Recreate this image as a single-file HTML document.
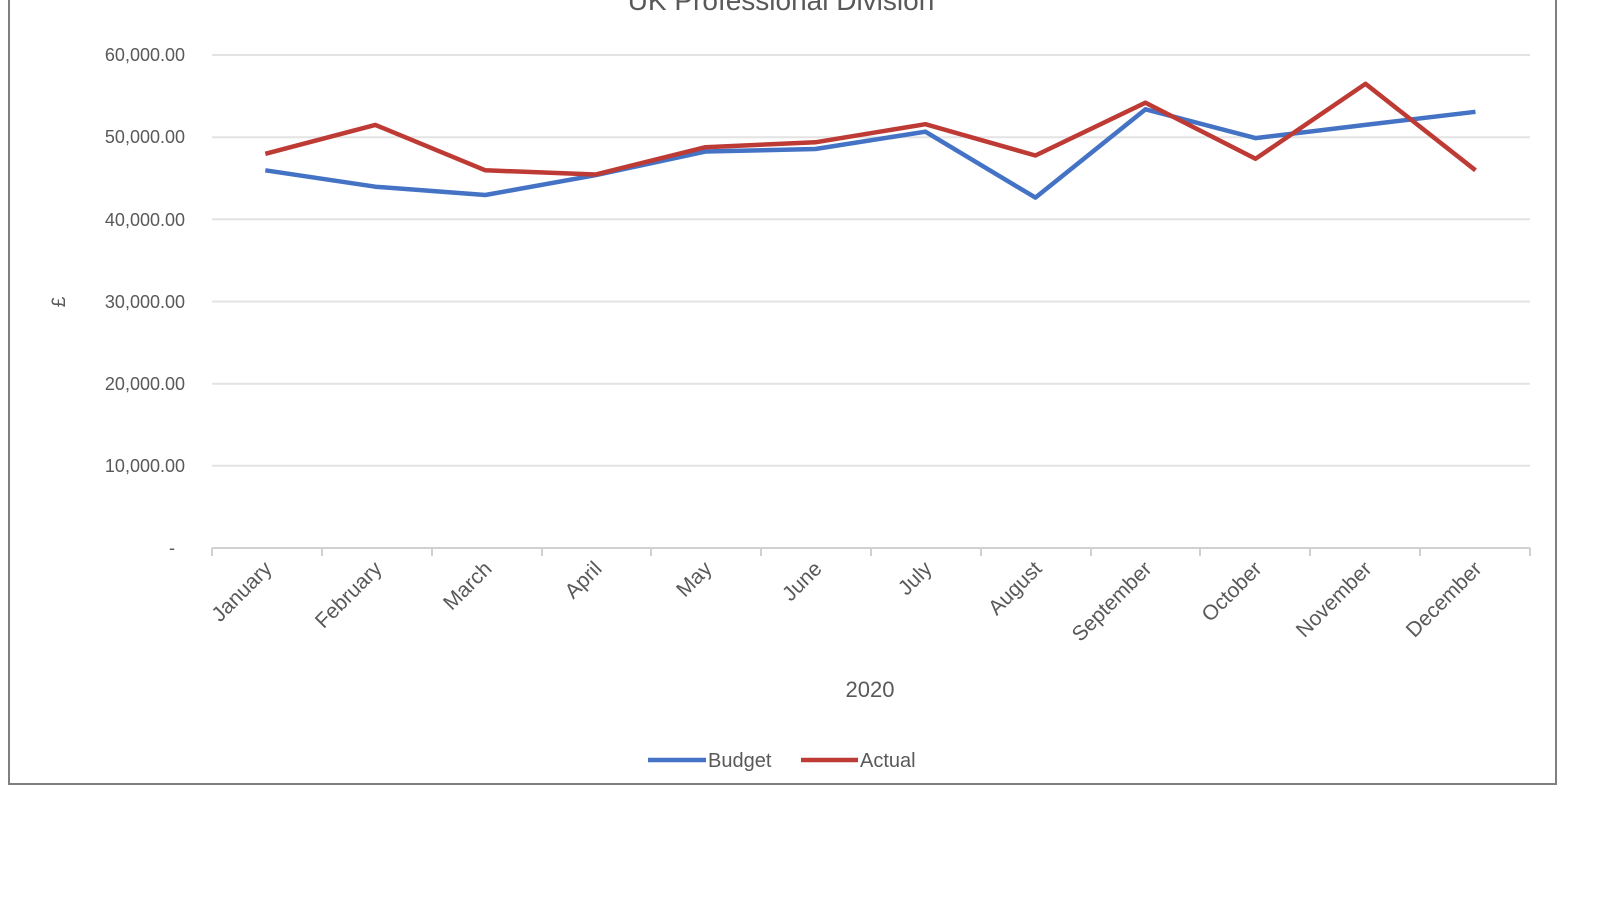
<!DOCTYPE html>
<html><head><meta charset="utf-8"><style>
html,body{margin:0;padding:0;background:#fff;}
svg{display:block;font-family:"Liberation Sans",sans-serif;}
</style></head><body>
<svg width="1600" height="900" viewBox="0 0 1600 900">
<rect x="9" y="-5" width="1547" height="789" fill="#fff" stroke="#7f7f7f" stroke-width="2"/>
<text x="781" y="10" font-size="28" fill="#595959" text-anchor="middle">UK Professional Division</text>
<g stroke="#e3e3e3" stroke-width="2">
<line x1="212" x2="1530" y1="55" y2="55"/>
<line x1="212" x2="1530" y1="137.2" y2="137.2"/>
<line x1="212" x2="1530" y1="219.3" y2="219.3"/>
<line x1="212" x2="1530" y1="301.5" y2="301.5"/>
<line x1="212" x2="1530" y1="383.7" y2="383.7"/>
<line x1="212" x2="1530" y1="465.8" y2="465.8"/>
</g>
<g stroke="#d0d0d0" stroke-width="2">
<line x1="212" x2="1530" y1="548" y2="548"/>
<line x1="212" x2="212" y1="548" y2="556"/><line x1="322" x2="322" y1="548" y2="556"/><line x1="432" x2="432" y1="548" y2="556"/><line x1="542" x2="542" y1="548" y2="556"/><line x1="651" x2="651" y1="548" y2="556"/><line x1="761" x2="761" y1="548" y2="556"/><line x1="871" x2="871" y1="548" y2="556"/><line x1="981" x2="981" y1="548" y2="556"/><line x1="1091" x2="1091" y1="548" y2="556"/><line x1="1200" x2="1200" y1="548" y2="556"/><line x1="1310" x2="1310" y1="548" y2="556"/><line x1="1420" x2="1420" y1="548" y2="556"/><line x1="1530" x2="1530" y1="548" y2="556"/>
</g>
<g font-size="18" fill="#595959" text-anchor="end">
<text x="185" y="61">60,000.00</text>
<text x="185" y="143">50,000.00</text>
<text x="185" y="226">40,000.00</text>
<text x="185" y="308">30,000.00</text>
<text x="185" y="390">20,000.00</text>
<text x="185" y="472">10,000.00</text>
<text x="175" y="554">-</text>
</g>
<text transform="translate(65,302) rotate(-90)" font-size="19" fill="#595959" text-anchor="middle">£</text>
<g font-size="21" fill="#595959" text-anchor="end">
<text transform="translate(273,570) rotate(-45)">January</text>
<text transform="translate(383,570) rotate(-45)">February</text>
<text transform="translate(493,570) rotate(-45)">March</text>
<text transform="translate(603,570) rotate(-45)">April</text>
<text transform="translate(713,570) rotate(-45)">May</text>
<text transform="translate(823,570) rotate(-45)">June</text>
<text transform="translate(933,570) rotate(-45)">July</text>
<text transform="translate(1043,570) rotate(-45)">August</text>
<text transform="translate(1153,570) rotate(-45)">September</text>
<text transform="translate(1263,570) rotate(-45)">October</text>
<text transform="translate(1373,570) rotate(-45)">November</text>
<text transform="translate(1483,570) rotate(-45)">December</text>
</g>
<text x="870" y="697" font-size="22" fill="#595959" text-anchor="middle">2020</text>
<polyline fill="none" stroke="#4472C4" stroke-width="4.5" stroke-linejoin="round" points="265.3,170.3 375.3,186.7 485.3,195 595.4,175.2 705.4,151.5 815.4,149 925.4,131.7 1035.4,197.6 1145.5,109.3 1255.5,138.1 1365.5,124.9 1475.5,111.8"/>
<polyline fill="none" stroke="#BE3A34" stroke-width="4.5" stroke-linejoin="round" points="265.3,153.8 375.3,124.9 485.3,170.3 595.4,174.5 705.4,147.2 815.4,142.3 925.4,124.2 1035.4,155.5 1145.5,102.7 1255.5,158.8 1365.5,83.8 1475.5,170.3"/>
<line x1="648" x2="706" y1="760" y2="760" stroke="#4472C4" stroke-width="4.5"/>
<text x="708" y="767" font-size="20" fill="#595959">Budget</text>
<line x1="801" x2="858" y1="760" y2="760" stroke="#BE3A34" stroke-width="4.5"/>
<text x="860" y="767" font-size="20" fill="#595959">Actual</text>
</svg>
</body></html>
